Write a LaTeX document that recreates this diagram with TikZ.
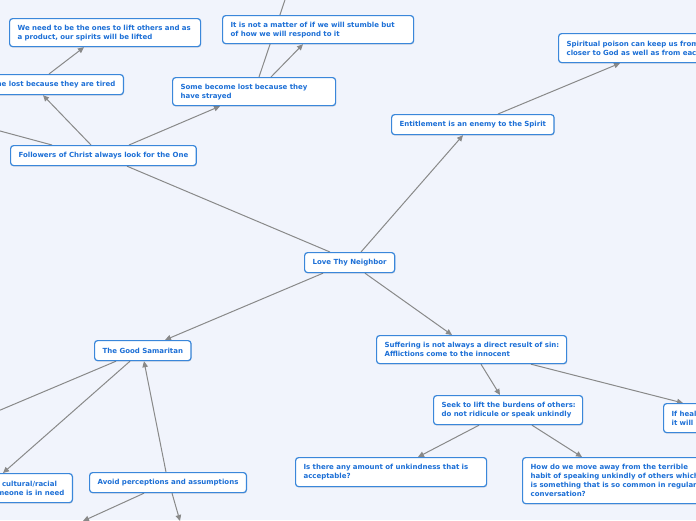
\documentclass[tikz,border=0pt]{standalone}
\usepackage{fontspec}
\setmainfont{DejaVu Sans}
\usetikzlibrary{arrows.meta,calc,shadows}
\definecolor{bgc}{HTML}{F1F4FC}
\definecolor{boxc}{HTML}{3A87DA}
\definecolor{txtc}{HTML}{1C6FD6}
\definecolor{linec}{HTML}{898989}
\newcommand\myline[1]{\mbox{#1}}
\pgfdeclarelayer{bg}
\pgfsetlayers{bg,main}
\tikzset{
  topic/.style={draw=boxc, line width=1.2pt, fill=white, rounded corners=3pt,
    text=txtc, font=\fontsize{7}{9}\selectfont\bfseries, align=left,
    inner xsep=8pt, inner ysep=5pt,
    drop shadow={shadow xshift=0.5pt, shadow yshift=-1pt, fill=black, opacity=0.12}},
  conn/.style={draw=linec, line width=1pt},
  arr/.style={conn, -{Triangle[length=6pt,width=5.5pt]}}
}
\begin{document}
\begin{tikzpicture}[x=1pt,y=-1pt]
\useasboundingbox (0,0) rectangle (696,520);
\clip (0,0) rectangle (696,520);
\begin{pgfonlayer}{bg}
\fill[bgc] (0,0) rectangle (696,520);
\end{pgfonlayer}
% nodes
\node[topic, anchor=north west, minimum width=90pt, minimum height=20pt] (love) at (304,252) {Love Thy Neighbor};
\node[topic, anchor=north west, minimum width=185pt, minimum height=20pt] (followers) at (10,145) {Followers of Christ always look for the One};
\node[topic, anchor=north east, minimum height=20pt] (tired) at (124,74) {Some become lost because they are tired};
\node[topic, anchor=north west, text width=175pt, minimum height=28pt] (weneed) at (9,18) {\myline{We need to be the ones to lift others and as}\\\myline{a product, our spirits will be lifted}};
\node[topic, anchor=north west, text width=147pt, minimum height=28pt] (strayed) at (172,77) {\myline{Some become lost because they}\\\myline{have strayed}};
\node[topic, anchor=north west, text width=175pt, minimum height=28pt] (stumble) at (222,15) {\myline{It is not a matter of if we will stumble but}\\\myline{of how we will respond to it}};
\node[topic, anchor=north west, minimum width=161pt, minimum height=20pt] (entitle) at (391,114) {Entitlement is an enemy to the Spirit};
\node[topic, anchor=north west, text width=175pt, minimum height=29pt] (poison) at (558,33) {\myline{Spiritual poison can keep us from getting}\\\myline{closer to God as well as from each other}};
\node[topic, anchor=north west, minimum width=96pt, minimum height=20pt] (samaritan) at (94,340) {The Good Samaritan};
\node[topic, anchor=north west, text width=174pt, minimum height=28pt] (suffering) at (376,335) {\myline{Suffering is not always a direct result of sin:}\\\myline{Afflictions come to the innocent}};
\node[topic, anchor=north west, text width=133pt, minimum height=29pt] (seek) at (433,395) {\myline{Seek to lift the burdens of others:}\\\myline{do not ridicule or speak unkindly}};
\node[topic, anchor=north west, text width=175pt, minimum height=29pt] (ifheal) at (663,403) {\myline{If healing}\\\myline{it will}};
\node[topic, anchor=north west, text width=175pt, minimum height=29pt] (isthere) at (295,457) {\myline{Is there any amount of unkindness that is}\\\myline{acceptable?}};
\node[topic, anchor=north west, text width=175pt, minimum height=46pt] (how) at (522,457) {\myline{How do we move away from the terrible}\\\myline{habit of speaking unkindly of others which}\\\myline{is something that is so common in regular}\\\myline{conversation?}};
\node[topic, anchor=north east, align=right, minimum height=29pt] (cultural) at (73,473) {cultural/racial\hspace*{7.5pt}\\someone is in need};
\node[topic, anchor=north west, minimum width=156pt, minimum height=20pt] (avoid) at (89,472) {Avoid perceptions and assumptions};
% free ends
\coordinate (offL1) at (-20,125.6);
\coordinate (offL2) at (-20,418.6);
\coordinate (offT) at (290,-15);
\coordinate (offB1) at (83,521);
\coordinate (offB2) at (180,521);
% connectors
\begin{pgfonlayer}{bg}
\draw[conn] ($(love.north west)+(26,0)$) -- ($(followers.south west)+(117,0)$);
\draw[arr] ($(love.north west)+(57,0)$) -- ($(entitle.south west)+(72,0)$);
\draw[arr] ($(love.south west)+(19,0)$) -- ($(samaritan.north west)+(71,0)$);
\draw[arr] ($(love.south west)+(61,0)$) -- ($(suffering.north west)+(76,0)$);
\draw[arr] ($(followers.north west)+(81,0)$) -- ($(tired.south east)+(-81,0)$);
\draw[conn] ($(followers.north west)+(42,0)$) -- (offL1);
\draw[arr] ($(followers.north west)+(119,0)$) -- ($(strayed.south west)+(48,0)$);
\draw[arr] ($(tired.north east)+(-75,0)$) -- ($(weneed.south west)+(75,0)$);
\draw[arr] ($(strayed.north west)+(99,0)$) -- ($(stumble.south west)+(81,0)$);
\draw[conn] ($(strayed.north west)+(87,0)$) -- (offT);
\draw[arr] ($(entitle.north west)+(107,0)$) -- ($(poison.south west)+(62,0)$);
\draw[conn] ($(samaritan.south west)+(22,0)$) -- (offL2);
\draw[arr] ($(samaritan.south west)+(36,0)$) -- ($(cultural.north east)+(-70,0)$);
\draw[arr] ($(avoid.north west)+(77,0)$) -- ($(samaritan.south west)+(50,0)$);
\draw[arr] ($(avoid.south west)+(55,0)$) -- (offB1);
\draw[arr] ($(avoid.south west)+(83,0)$) -- (offB2);
\draw[arr] ($(suffering.south west)+(105,0)$) -- ($(seek.north west)+(67,0)$);
\draw[arr] ($(suffering.south west)+(155,0)$) -- ($(ifheal.north west)+(20,0)$);
\draw[arr] ($(seek.south west)+(46,0)$) -- ($(isthere.north west)+(123,0)$);
\draw[arr] ($(seek.south west)+(99,0)$) -- ($(how.north west)+(60,0)$);
\end{pgfonlayer}
\end{tikzpicture}
\end{document}
